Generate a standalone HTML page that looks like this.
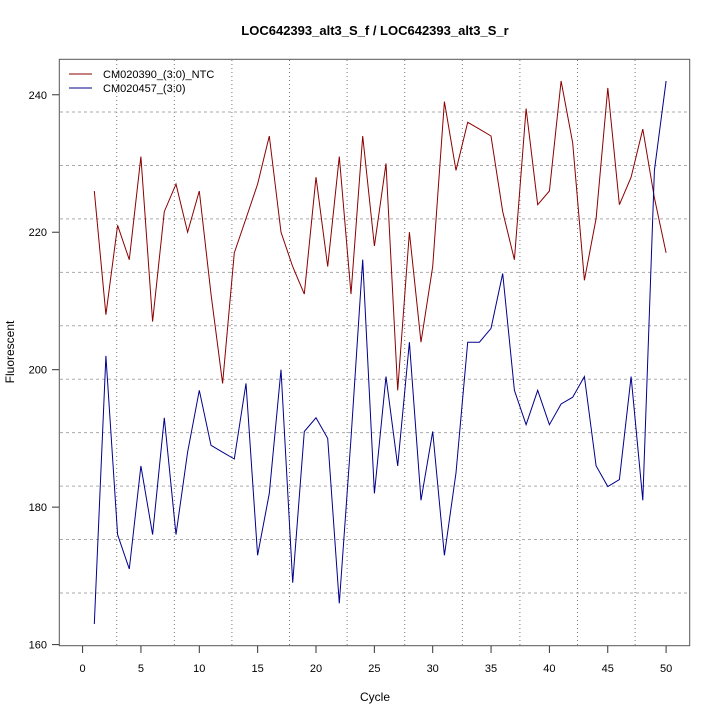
<!DOCTYPE html>
<html><head><meta charset="utf-8"><style>body{margin:0;background:#fff}svg{display:block}text{font-family:"Liberation Sans",sans-serif}</style></head>
<body>
<svg id="s" width="720" height="720" xmlns="http://www.w3.org/2000/svg">
<rect width="720" height="720" fill="#fff"/>
<g id="grid"></g>
<polyline id="r" fill="none" stroke="#8b0000" stroke-width="1"/>
<polyline id="b" fill="none" stroke="#00008b" stroke-width="1"/>
<rect x="59.3" y="59.3" width="630.4" height="586.4" fill="none" stroke="#555" stroke-width="1"/>
<g id="ax" stroke="#333" font-size="11"></g>
<text x="375" y="35" text-anchor="middle" font-size="13" font-weight="bold">LOC642393_alt3_S_f / LOC642393_alt3_S_r</text>
<text x="375" y="701" text-anchor="middle" font-size="12">Cycle</text>
<text transform="translate(14,352) rotate(-90)" text-anchor="middle" font-size="12">Fluorescent</text>
<line x1="69" y1="74" x2="92" y2="74" stroke="#8b0000"/>
<line x1="69" y1="88" x2="92" y2="88" stroke="#00008b"/>
<text x="103" y="78" font-size="11">CM020390_(3:0)_NTC</text>
<text x="103" y="92" font-size="11">CM020457_(3:0)</text>
</svg>
<script>
var R=[226,208,221,216,231,207,223,227,220,226,211,198,217,222,227,234,220,215,211,228,215,231,211,234,218,230,197,220,204,215,239,229,236,235,234,223,216,238,224,226,242,233,213,222,241,224,228,235,225,217];
var B=[163,202,176,171,186,176,193,176,188,197,189,188,187,198,173,182,200,169,191,193,190,166,190,216,182,199,186,204,181,191,173,185,204,204,206,214,197,192,197,192,195,196,199,186,183,184,199,181,229,242];
function X(c){return 82.6+11.67*c}function Y(v){return 645.7-(v-159.84)*6.873}
function pts(a){return a.map(function(v,i){return X(i+1).toFixed(1)+","+Y(v).toFixed(1)}).join(" ")}
document.getElementById("r").setAttribute("points",pts(R));
document.getElementById("b").setAttribute("points",pts(B));
var ns="http://www.w3.org/2000/svg",g=document.getElementById("grid"),ax=document.getElementById("ax");
function el(p,t,a,tx){var e=document.createElementNS(ns,t);for(var k in a)e.setAttribute(k,a[k]);if(tx!=null)e.textContent=tx;p.appendChild(e);return e}
for(var i=0;i<10;i++){var x=116.7+57.6*i;el(g,"line",{x1:x,y1:60,x2:x,y2:645,stroke:"#777","stroke-dasharray":"1,3"});}
for(var i=0;i<10;i++){var y=112+53.44*i;el(g,"line",{x1:60,y1:y,x2:689,y2:y,stroke:"#aaa","stroke-dasharray":"3,3"});}
for(var c=0;c<=50;c+=5){var x=X(c);el(ax,"line",{x1:x,y1:646,x2:x,y2:653});el(ax,"text",{x:x,y:672,"text-anchor":"middle",stroke:"none",fill:"#000"},c);}
for(var v=160;v<=240;v+=20){var y=Y(v);el(ax,"line",{x1:52,y1:y,x2:59,y2:y});el(ax,"text",{x:47,y:y+4,"text-anchor":"end",stroke:"none",fill:"#000"},v);}
</script>
</body></html>
